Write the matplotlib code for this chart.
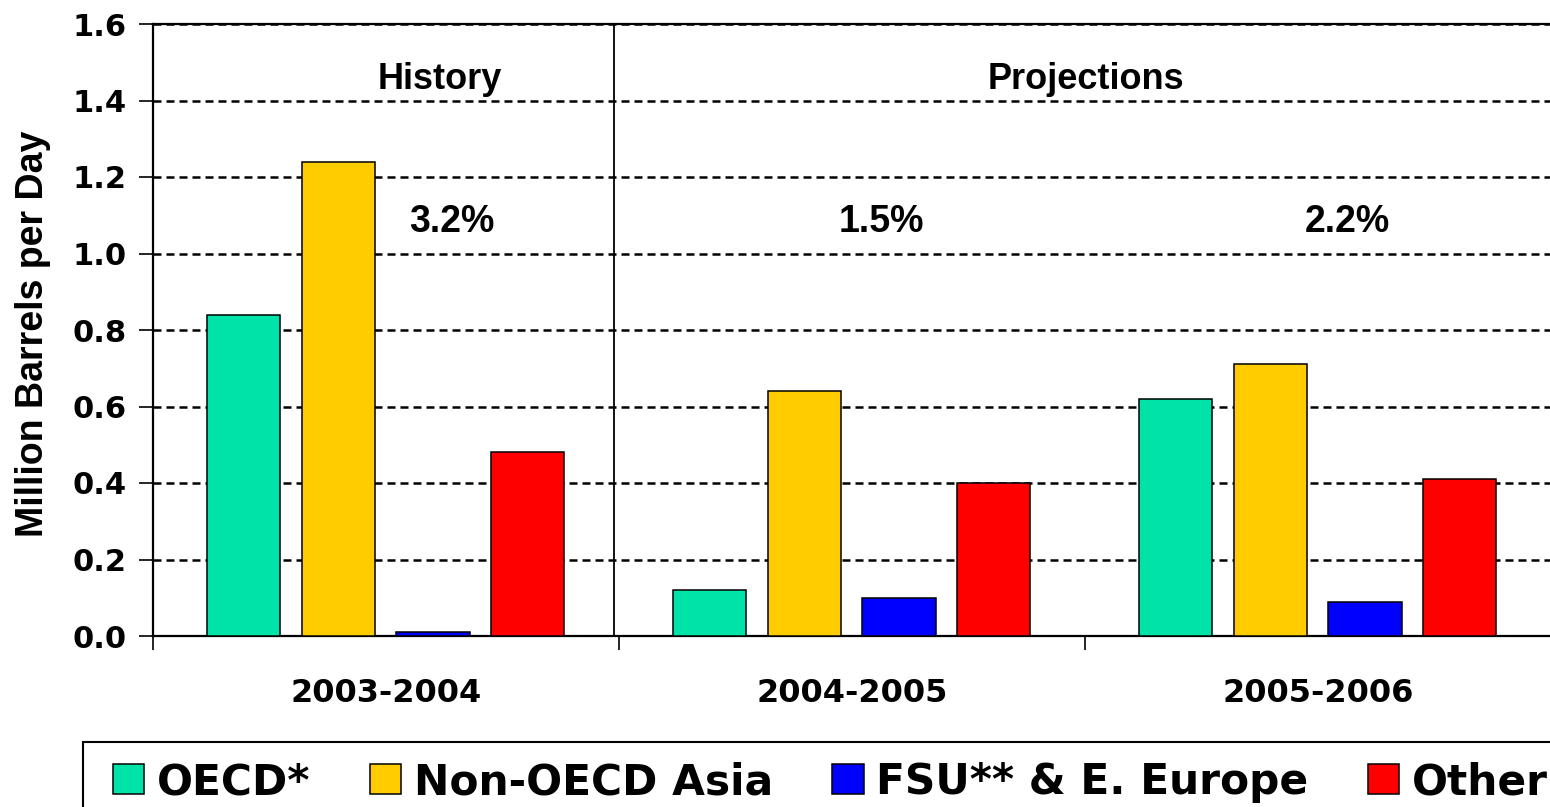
import numpy as np
import matplotlib
matplotlib.use('Agg')
import matplotlib.pyplot as plt
from matplotlib.patches import Patch, Rectangle

periods = ['2003-2004', '2004-2005', '2005-2006']
regions = ['OECD*', 'Non-OECD Asia', 'FSU** & E. Europe', 'Other']
oecd = [0.84, 0.12, 0.62]
asia = [1.24, 0.64, 0.71]
fsu = [0.01, 0.10, 0.09]
other = [0.48, 0.40, 0.41]
growth = ['3.2%', '1.5%', '2.2%']

colors = ['#00E3A8', '#FFCC00', '#0000FF', '#FF0000']
series = [oecd, asia, fsu, other]

W, H = 1550, 807
fig = plt.figure(figsize=(W / 100, H / 100), dpi=100, facecolor='white')
ax = fig.add_axes([153 / W, 1 - 636 / H, (1551 - 153) / W, (636 - 24) / H])

x = np.arange(len(periods))
offsets = [-0.305, -0.102, 0.101, 0.303]
for vals, off, c in zip(series, offsets, colors):
    ax.bar(x + off, vals, width=0.157, color=c, edgecolor='black', linewidth=1.1, zorder=3)

ax.set_xlim(-0.5, 2.5)
ax.set_ylim(0, 1.6)
ax.set_yticks(np.arange(0, 1.61, 0.2))
ax.set_yticklabels(['%.1f' % v for v in np.arange(0, 1.61, 0.2)])
for v in np.arange(0.2, 1.61, 0.2):
    ax.axhline(v, color='black', lw=1.8, linestyle=(0, (3.2, 2.0)), zorder=1)

ax.set_xticks(x)
ax.set_xticklabels(periods)
ax.set_xticks([-0.5, 0.5, 1.5, 2.5], minor=True)
ax.tick_params(axis='x', which='major', length=0, pad=30)
ax.tick_params(axis='x', which='minor', length=10, width=1.2, direction='out')
ax.tick_params(axis='y', length=10, width=1.2, direction='out', pad=9)
for lab in ax.get_xticklabels():
    lab.set_fontfamily('DejaVu Sans')
    lab.set_fontweight('bold')
    lab.set_fontsize(23)
for lab in ax.get_yticklabels():
    lab.set_fontfamily('DejaVu Sans')
    lab.set_fontweight('bold')
    lab.set_fontsize(22)

for s in ['left', 'bottom', 'top']:
    ax.spines[s].set_linewidth(1.6)
ax.spines['right'].set_visible(False)

# History / Projections divider
ax.axvline(0.489, color='black', lw=1.3, zorder=2)

afont = dict(family='Liberation Sans', weight='bold', ha='center', va='center')
ax.text(0.116, 1.455, 'History', fontsize=26, **afont)
ax.text(1.502, 1.455, 'Projections', fontsize=26, **afont)
for xi, g in zip([0.142, 1.064, 2.062], growth):
    ax.text(xi, 1.082, g, fontsize=27, **afont)

fig.text(33 / W, 1 - 334 / H, 'Million Barrels per Day', rotation=90,
         ha='center', va='center', family='Liberation Sans', weight='bold', fontsize=27)

handles = [Patch(facecolor=c, edgecolor='black', linewidth=1.1) for c in colors]
leg = fig.legend(handles, regions, loc='upper left', bbox_to_anchor=(94 / W, 1 - 742 / H),
                 ncol=4, frameon=False, borderaxespad=0,
                 prop={'family': 'DejaVu Sans', 'weight': 'bold', 'size': 30.5},
                 handlelength=0.74, handleheight=0.72, handletextpad=0.3,
                 columnspacing=1.4, borderpad=0.45)
# legend frame runs past the right and bottom edges
fig.patches.append(Rectangle((83 / W, -0.1), 1.2, (1 - 742 / H) + 0.1,
                             transform=fig.transFigure, facecolor='none',
                             edgecolor='black', linewidth=1.5))

fig.savefig('out.png', dpi=100)
